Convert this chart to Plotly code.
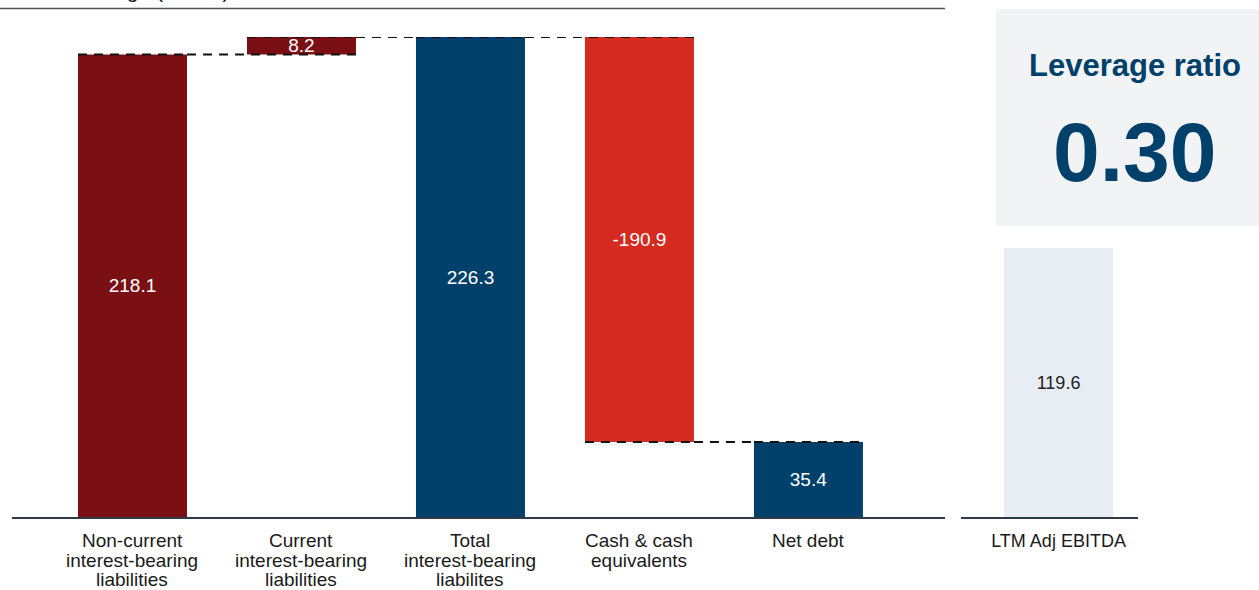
import plotly.graph_objects as go

# ---- data ----
categories = [
    "Non-current<br>interest-bearing<br>liabilities",
    "Current<br>interest-bearing<br>liabilities",
    "Total<br>interest-bearing<br>liabilites",
    "Cash & cash<br>equivalents",
    "Net debt",
]
measures = ["relative", "relative", "total", "relative", "total"]
values = [218.1, 8.2, 226.3, -190.9, 35.4]
ebitda_label = ["LTM Adj EBITDA"]
ebitda_value = [119.6]
title_text = "Net leverage (MSEK)"
ratio_title = "Leverage ratio"

W, H = 1259, 590
FONT = "Liberation Sans, Arial, sans-serif"
DARK_RED = "#7b1014"
RED = "#d42a1f"
BLUE = "#00416b"
LIGHT = "#e8edf4"
AXIS = "#2f3a45"

def px_x(p):
    return p / W

def px_y(p):
    return 1 - p / H

y_bottom, y_top = 517, 37
main_top = values[2]
ebitda_top = ebitda_value[0] * (y_bottom - y_top) / (y_bottom - 248)

fig = go.Figure()

fig.add_trace(go.Waterfall(
    x=categories,
    y=values,
    measure=measures,
    text=[f"{v:.1f}" for v in values],
    textposition="inside",
    insidetextanchor="middle",
    constraintext="none",
    textfont=dict(family=FONT, size=19, color="white"),
    increasing=dict(marker=dict(color=DARK_RED)),
    decreasing=dict(marker=dict(color=RED)),
    totals=dict(marker=dict(color=BLUE)),
    connector=dict(mode="spanning", line=dict(color="#111111", width=2, dash="9px,7px")),
    xaxis="x", yaxis="y",
    hoverinfo="skip",
))

fig.add_trace(go.Bar(
    x=ebitda_label,
    y=ebitda_value,
    text=[f"{v:.1f}" for v in ebitda_value],
    textposition="inside",
    insidetextanchor="middle",
    constraintext="none",
    textfont=dict(family=FONT, size=18, color="#222222"),
    marker=dict(color=LIGHT, line=dict(width=0)),
    width=0.645,
    xaxis="x2", yaxis="y2",
    hoverinfo="skip",
))

dom_y = [px_y(y_bottom), px_y(y_top)]
fig.update_layout(
    width=W, height=H,
    margin=dict(l=0, r=0, t=0, b=0),
    paper_bgcolor="white", plot_bgcolor="white",
    showlegend=False,
    waterfallgap=0.355,
    font=dict(family=FONT, color="#1a1a1a"),
    xaxis=dict(domain=[px_x(12), px_x(945)], range=[-0.713, 4.808],
               showticklabels=False, ticks="", showgrid=False, zeroline=False,
               showline=True, linecolor=AXIS, linewidth=2),
    yaxis=dict(domain=dom_y, range=[0, main_top], visible=False, showgrid=False),
    xaxis2=dict(domain=[px_x(961), px_x(1138)], range=[-0.577, 0.47], anchor="y2",
                showticklabels=True, ticks="", showgrid=False, zeroline=False,
                showline=True, linecolor=AXIS, linewidth=2,
                tickfont=dict(family=FONT, size=18, color="#1a1a1a"),
                ticklabelstandoff=6),
    yaxis2=dict(domain=dom_y, range=[0, ebitda_top], visible=False, showgrid=False,
                anchor="x2"),
)

# category labels: one annotation per line for tight line spacing
for cat in categories:
    for i, line in enumerate(cat.split("<br>")):
        fig.add_annotation(
            x=cat, y=0, xref="x", yref="y", yanchor="top", xanchor="center",
            text=line, showarrow=False, yshift=-11 - 19.5 * i,
            font=dict(family=FONT, size=19, color="#1a1a1a"),
        )

# top rule
fig.add_shape(type="line", xref="paper", yref="paper",
              x0=0, x1=px_x(945), y0=px_y(8.5), y1=px_y(8.5),
              line=dict(color="#555555", width=1.5))

# partially visible title at very top (cut off, as in the reference)
fig.add_annotation(x=px_x(231), y=px_y(-10), xref="paper", yref="paper",
                   xanchor="right", yanchor="middle", text=title_text,
                   showarrow=False, font=dict(family=FONT, size=21, color="#1a1a1a"))

# leverage ratio box
fig.add_shape(type="rect", xref="paper", yref="paper",
              x0=px_x(996), x1=1.0, y0=px_y(226), y1=px_y(9),
              fillcolor="#f2f3f5", line=dict(width=0), layer="below")
fig.add_annotation(x=px_x(1135), y=px_y(65), xref="paper", yref="paper",
                   xanchor="center", yanchor="middle",
                   text=f"<b>{ratio_title}</b>", showarrow=False,
                   font=dict(family=FONT, size=31, color=BLUE))
fig.add_annotation(x=px_x(1135), y=px_y(152), xref="paper", yref="paper",
                   xanchor="center", yanchor="middle",
                   text=f"<b>{values[4] / ebitda_value[0]:.2f}</b>", showarrow=False,
                   font=dict(family=FONT, size=84, color=BLUE))

fig.write_html(
    "out.html",
    config={"displayModeBar": False},
    post_script="document.body.style.margin='0';document.body.style.overflow='hidden';",
)
